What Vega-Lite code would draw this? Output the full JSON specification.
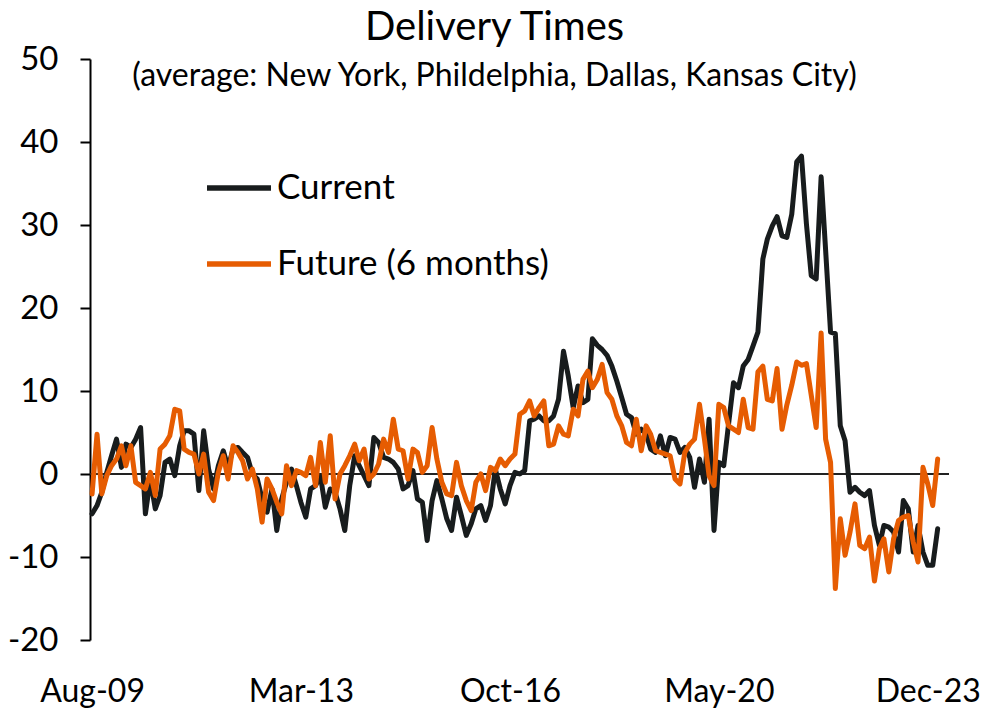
{
"$schema": "https://vega.github.io/schema/vega-lite/v6.json",
"width": 859, "height": 581,
"autosize": {"type": "none"},
"padding": {"left": 90, "top": 59, "right": 32, "bottom": 80},
"background": "white",
"config": {"view": {"stroke": null}, "font": "Lato"},
"title": {"text": "Delivery Times", "subtitle": "(average: New York, Phildelphia, Dallas, Kansas City)", "fontSize": 40, "fontWeight": "normal", "subtitleFontSize": 32, "color": "#000", "subtitleColor": "#000", "anchor": "middle", "offset": -49, "subtitlePadding": 13, "dx": -25, "font": "Lato", "subtitleFont": "Lato"},
"data": {"values": [
{"d":"2009-08-01","c":-4.8,"f":-2.4},{"d":"2009-09-01","c":-3.8,"f":4.8},{"d":"2009-10-01","c":-2.2,"f":-2.4},{"d":"2009-11-01","c":0.2,"f":-0.2},{"d":"2009-12-01","c":2.2,"f":1},
{"d":"2010-01-01","c":4.2,"f":1.8},{"d":"2010-02-01","c":0.8,"f":3.4},{"d":"2010-03-01","c":3.6,"f":1},{"d":"2010-04-01","c":3.2,"f":3.4},{"d":"2010-05-01","c":4.2,"f":-1},{"d":"2010-06-01","c":5.6,"f":-1.4},{"d":"2010-07-01","c":-4.8,"f":-1.8},{"d":"2010-08-01","c":-0.6,"f":0.2},{"d":"2010-09-01","c":-4.2,"f":-2.6},{"d":"2010-10-01","c":-2.6,"f":3},{"d":"2010-11-01","c":1.4,"f":3.6},{"d":"2010-12-01","c":1.8,"f":4.6},
{"d":"2011-01-01","c":-0.2,"f":7.8},{"d":"2011-02-01","c":3.4,"f":7.6},{"d":"2011-03-01","c":5.2,"f":3},{"d":"2011-04-01","c":5.2,"f":2.6},{"d":"2011-05-01","c":4.8,"f":2.4},{"d":"2011-06-01","c":-2,"f":0},{"d":"2011-07-01","c":5.2,"f":2.4},{"d":"2011-08-01","c":0.6,"f":-2.2},{"d":"2011-09-01","c":-1.8,"f":-3.2},{"d":"2011-10-01","c":1,"f":0.2},{"d":"2011-11-01","c":2.8,"f":2.2},{"d":"2011-12-01","c":0.8,"f":-0.6},
{"d":"2012-01-01","c":3,"f":3.4},{"d":"2012-02-01","c":3.2,"f":2.6},{"d":"2012-03-01","c":2.6,"f":1.6},{"d":"2012-04-01","c":2,"f":-0.6},{"d":"2012-05-01","c":0,"f":0.6},{"d":"2012-06-01","c":-0.6,"f":-1.8},{"d":"2012-07-01","c":-3,"f":-5.8},{"d":"2012-08-01","c":-4.6,"f":-0.6},{"d":"2012-09-01","c":-1.8,"f":-1.8},{"d":"2012-10-01","c":-6.8,"f":-3.4},{"d":"2012-11-01","c":-3,"f":-4.8},{"d":"2012-12-01","c":-1,"f":1},
{"d":"2013-01-01","c":0.6,"f":-1.4},{"d":"2013-02-01","c":-1.4,"f":0.4},{"d":"2013-03-01","c":-3.4,"f":0.2},{"d":"2013-04-01","c":-5.2,"f":-0.2},{"d":"2013-05-01","c":-1.8,"f":2},{"d":"2013-06-01","c":-1.4,"f":-1.4},{"d":"2013-07-01","c":-0.2,"f":3.8},{"d":"2013-08-01","c":-4,"f":-1},{"d":"2013-09-01","c":-1.8,"f":4.6},{"d":"2013-10-01","c":-2.2,"f":-3},{"d":"2013-11-01","c":-4.2,"f":0},{"d":"2013-12-01","c":-6.8,"f":1},
{"d":"2014-01-01","c":-1.4,"f":2.2},{"d":"2014-02-01","c":2.2,"f":3.6},{"d":"2014-03-01","c":1,"f":1.6},{"d":"2014-04-01","c":-0.2,"f":3},{"d":"2014-05-01","c":-1.4,"f":-0.6},{"d":"2014-06-01","c":4.4,"f":0},{"d":"2014-07-01","c":3.8,"f":1.2},{"d":"2014-08-01","c":2,"f":4.2},{"d":"2014-09-01","c":1.8,"f":2.6},{"d":"2014-10-01","c":1.4,"f":6.6},{"d":"2014-11-01","c":0.6,"f":3},{"d":"2014-12-01","c":-1.8,"f":2.8},
{"d":"2015-01-01","c":-1.4,"f":-0.6},{"d":"2015-02-01","c":0.4,"f":3},{"d":"2015-03-01","c":-3,"f":2.6},{"d":"2015-04-01","c":-3.4,"f":0.2},{"d":"2015-05-01","c":-8,"f":1},{"d":"2015-06-01","c":-3.2,"f":5.6},{"d":"2015-07-01","c":-0.8,"f":1.8},{"d":"2015-08-01","c":-3,"f":-1},{"d":"2015-09-01","c":-5.4,"f":-2.4},{"d":"2015-10-01","c":-6.8,"f":-2.6},{"d":"2015-11-01","c":-2.8,"f":1.4},{"d":"2015-12-01","c":-5,"f":-1.4},
{"d":"2016-01-01","c":-7.4,"f":-3.2},{"d":"2016-02-01","c":-6,"f":-4.4},{"d":"2016-03-01","c":-4.2,"f":-1},{"d":"2016-04-01","c":-3.8,"f":0},{"d":"2016-05-01","c":-5.6,"f":-2},{"d":"2016-06-01","c":-3.8,"f":0.8},{"d":"2016-07-01","c":0.6,"f":0.4},{"d":"2016-08-01","c":-1.8,"f":1.8},{"d":"2016-09-01","c":-3.6,"f":1},{"d":"2016-10-01","c":-1.4,"f":1.8},{"d":"2016-11-01","c":0.2,"f":2.4},{"d":"2016-12-01","c":0,"f":7.2},
{"d":"2017-01-01","c":0.4,"f":7.6},{"d":"2017-02-01","c":6.4,"f":8.8},{"d":"2017-03-01","c":6.6,"f":7},{"d":"2017-04-01","c":7,"f":8},{"d":"2017-05-01","c":6.4,"f":8.8},{"d":"2017-06-01","c":6.4,"f":3.4},{"d":"2017-07-01","c":7,"f":3.6},{"d":"2017-08-01","c":9,"f":5.8},{"d":"2017-09-01","c":14.8,"f":4.8},{"d":"2017-10-01","c":11.8,"f":4.6},{"d":"2017-11-01","c":8,"f":7.8},{"d":"2017-12-01","c":10.6,"f":7},
{"d":"2018-01-01","c":8.6,"f":11.4},{"d":"2018-02-01","c":9,"f":12.4},{"d":"2018-03-01","c":16.3,"f":10.4},{"d":"2018-04-01","c":15.5,"f":11.4},{"d":"2018-05-01","c":15,"f":13.2},{"d":"2018-06-01","c":14.3,"f":9.8},{"d":"2018-07-01","c":13,"f":9},{"d":"2018-08-01","c":11.2,"f":7},{"d":"2018-09-01","c":9.2,"f":5.8},{"d":"2018-10-01","c":7.2,"f":3.8},{"d":"2018-11-01","c":6.8,"f":3.4},{"d":"2018-12-01","c":4.8,"f":6.6},
{"d":"2019-01-01","c":5.4,"f":2.8},{"d":"2019-02-01","c":4.8,"f":5.8},{"d":"2019-03-01","c":3,"f":4.8},{"d":"2019-04-01","c":2.6,"f":2.8},{"d":"2019-05-01","c":4.6,"f":2.6},{"d":"2019-06-01","c":2.2,"f":2.4},{"d":"2019-07-01","c":4.4,"f":2.2},{"d":"2019-08-01","c":4.2,"f":-0.6},{"d":"2019-09-01","c":2.6,"f":-1.2},{"d":"2019-10-01","c":3.2,"f":2.6},{"d":"2019-11-01","c":2,"f":3.6},{"d":"2019-12-01","c":-1.6,"f":4.2},
{"d":"2020-01-01","c":1.8,"f":8.4},{"d":"2020-02-01","c":-1,"f":4.2},{"d":"2020-03-01","c":6.6,"f":-0.2},{"d":"2020-04-01","c":-6.8,"f":-1.4},{"d":"2020-05-01","c":1.4,"f":8.4},{"d":"2020-06-01","c":1,"f":8},{"d":"2020-07-01","c":6,"f":5.8},{"d":"2020-08-01","c":11,"f":5.4},{"d":"2020-09-01","c":10.4,"f":5},{"d":"2020-10-01","c":13,"f":9},{"d":"2020-11-01","c":13.8,"f":5.6},{"d":"2020-12-01","c":15.4,"f":5.4},
{"d":"2021-01-01","c":17.1,"f":12.3},{"d":"2021-02-01","c":25.9,"f":13},{"d":"2021-03-01","c":28.3,"f":9},{"d":"2021-04-01","c":29.9,"f":8.8},{"d":"2021-05-01","c":31,"f":12.7},{"d":"2021-06-01","c":28.7,"f":5.4},{"d":"2021-07-01","c":28.5,"f":8.3},{"d":"2021-08-01","c":31.3,"f":10.7},{"d":"2021-09-01","c":37.6,"f":13.5},{"d":"2021-10-01","c":38.3,"f":13.1},{"d":"2021-11-01","c":30.1,"f":13.3},{"d":"2021-12-01","c":23.9,"f":9.5},
{"d":"2022-01-01","c":23.5,"f":5.6},{"d":"2022-02-01","c":35.8,"f":17},{"d":"2022-03-01","c":27,"f":4.2},{"d":"2022-04-01","c":17.1,"f":1.4},{"d":"2022-05-01","c":16.9,"f":-13.8},{"d":"2022-06-01","c":5.8,"f":-5.4},{"d":"2022-07-01","c":4,"f":-9.8},{"d":"2022-08-01","c":-2.2,"f":-7},{"d":"2022-09-01","c":-1.6,"f":-3.6},{"d":"2022-10-01","c":-2.2,"f":-8.6},{"d":"2022-11-01","c":-2.6,"f":-9},{"d":"2022-12-01","c":-2,"f":-7.6},
{"d":"2023-01-01","c":-6.2,"f":-12.9},{"d":"2023-02-01","c":-8.6,"f":-9},{"d":"2023-03-01","c":-6.2,"f":-7.8},{"d":"2023-04-01","c":-6.4,"f":-11.8},{"d":"2023-05-01","c":-7,"f":-7.8},{"d":"2023-06-01","c":-9.4,"f":-5.6},{"d":"2023-07-01","c":-3.2,"f":-5.2},{"d":"2023-08-01","c":-4.2,"f":-5},{"d":"2023-09-01","c":-9.4,"f":-8.2},{"d":"2023-10-01","c":-6.2,"f":-10.6},{"d":"2023-11-01","c":-9.4,"f":0.8},{"d":"2023-12-01","c":-11,"f":-1.2},
{"d":"2024-01-01","c":-11,"f":-3.8},{"d":"2024-02-01","c":-6.6,"f":1.8}
]},
"transform": [{"fold": ["c", "f"], "as": ["s", "v"]}],
"layer": [
{"data": {"values": [{}]}, "mark": {"type": "rule", "color": "#222", "strokeWidth": 2}, "encoding": {"y": {"datum": 0, "type": "quantitative"}}},
{"mark": {"type": "line", "strokeWidth": 5, "strokeJoin": "round", "strokeCap": "round"},
 "encoding": {
  "x": {"field": "d", "type": "temporal",
        "scale": {"type": "utc", "domain": [{"year": 2009, "month": 7, "date": 19, "utc": true}, {"year": 2024, "month": 4, "date": 12, "utc": true}]},
        "axis": {"title": null, "format": "%b-%y", "domain": false, "ticks": false, "grid": false, "labelFontSize": 32, "labelPadding": 36, "labelColor": "#000", "labelFlush": false, "labelOverlap": false,
                 "values": [{"year": 2009, "month": 8, "date": 1, "utc": true}, {"year": 2013, "month": 3, "date": 1, "utc": true}, {"year": 2016, "month": 10, "date": 1, "utc": true}, {"year": 2020, "month": 5, "date": 1, "utc": true}, {"year": 2023, "month": 12, "date": 1, "utc": true}]}},
  "y": {"field": "v", "type": "quantitative",
        "scale": {"domain": [-20, 50], "nice": false, "zero": false},
        "axis": {"title": null, "values": [-20, -10, 0, 10, 20, 30, 40, 50], "grid": false, "domainColor": "#000", "domainWidth": 2, "tickColor": "#000", "tickWidth": 2, "tickSize": 10, "labelFontSize": 33, "labelPadding": 22, "labelColor": "#000",
                 "labelExpr": "datum.value < 0 ? '-' + abs(datum.value) : '' + datum.value"}},
  "color": {"field": "s", "type": "nominal",
        "scale": {"domain": ["c", "f"], "range": ["#181C1D", "#E65C02"]},
        "legend": {"orient": "none", "legendX": 114, "legendY": 94, "title": null, "symbolType": "stroke", "symbolSize": 4096, "symbolStrokeWidth": 5.5, "labelFontSize": 35, "labelOffset": 3, "labelLimit": 500, "rowPadding": 23, "padding": 0, "labelColor": "#000",
                   "labelExpr": "datum.label == 'c' ? 'Current' : 'Future (6 months)'"}}
 }}
]
}
